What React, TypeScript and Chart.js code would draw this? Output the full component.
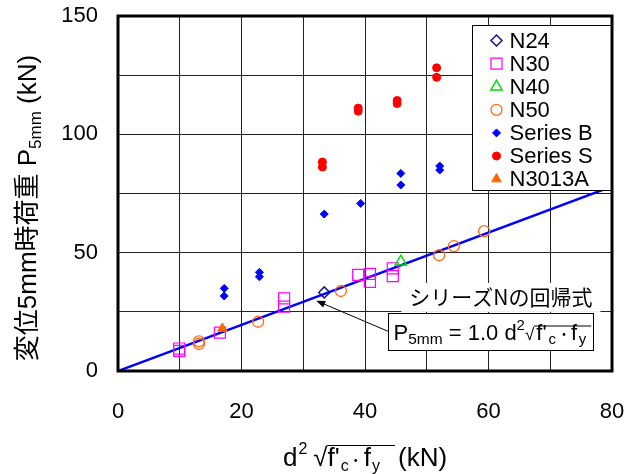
import React, { useEffect, useRef } from 'react';
import { Chart, registerables } from 'chart.js';
import { drawPoint } from 'chart.js/helpers';

Chart.register(...registerables);

// ---- data (x = d^2 sqrt(f'c fy) [kN], y = P5mm [kN]) ----
const N24: [number, number][] = [[33.4, 33.2]];
const N30: [number, number][] = [
  [9.9, 9.5], [9.9, 8.5], [16.5, 16.2], [26.9, 30.7], [26.9, 27.2],
  [38.9, 40.6], [40.8, 41.0], [40.8, 37.7], [44.5, 43.4], [44.5, 40.1],
];
const N40: [number, number][] = [[45.8, 46.2]];
const N50: [number, number][] = [
  [13.1, 12.5], [13.1, 11.4], [22.7, 20.8], [36.1, 33.8], [52.0, 48.9], [54.4, 52.8], [59.3, 59.1],
];
const SERIES_B: [number, number][] = [
  [17.2, 34.9], [17.2, 31.7], [22.9, 41.7], [22.9, 39.8], [33.4, 66.3],
  [39.3, 70.8], [45.8, 78.6], [45.8, 83.5], [52.1, 86.6], [52.1, 84.9],
];
const SERIES_S: [number, number][] = [
  [33.1, 88.3], [33.1, 86.2], [38.9, 111.1], [38.9, 109.8],
  [45.2, 114.3], [45.2, 113.0], [51.6, 128.1], [51.6, 124.1],
];
const N3013A: [number, number][] = [[16.9, 18.0]];
const REG_LINE: [number, number][] = [[0, 0], [80, 78]];

const X_TICK_LABELS = [0, 20, 40, 60, 80];
const Y_TICK_LABELS = [0, 50, 100, 150];

// annotation anchors (data units)
const ARROW_TIP = { x: 32.1, y: 29.7 };
const BOX_ANCHOR = { x: 43.7, y: 24.5 };
const NOTE_CENTER = { x: 62.0, y: 31.3 };

const LAT = "'Liberation Sans', Arial, 'Noto Sans CJK JP', sans-serif";
const CJK = "'Noto Sans CJK JP', 'Liberation Sans', sans-serif";

type Seg = { t: string; size: number; dy?: number; font?: string; gap?: number; root?: boolean; over?: boolean };

function drawRich(ctx: CanvasRenderingContext2D, segs: Seg[], x: number, y: number, align: 'left' | 'center') {
  let total = 0;
  for (const s of segs) {
    ctx.font = `${s.size}px ${s.font || LAT}`;
    total += ctx.measureText(s.t).width + (s.gap || 0);
  }
  let cx = align === 'center' ? x - total / 2 : x;
  let overStart: number | null = null;
  let overY = 0;
  let overEnd = 0;
  ctx.textAlign = 'left';
  ctx.textBaseline = 'alphabetic';
  for (const s of segs) {
    cx += s.gap || 0;
    ctx.font = `${s.size}px ${s.font || LAT}`;
    const m = ctx.measureText(s.t);
    if (s.t) ctx.fillText(s.t, cx, y + (s.dy || 0));
    if (s.root) {
      overStart = cx + m.actualBoundingBoxRight - 1;
      overY = y + (s.dy || 0) - m.actualBoundingBoxAscent + 0.5;
    }
    cx += m.width;
    if (s.over) overEnd = cx;
  }
  if (overStart !== null) {
    ctx.beginPath();
    ctx.moveTo(overStart, overY);
    ctx.lineTo(overEnd, overY);
    ctx.lineWidth = 1.2;
    ctx.strokeStyle = '#000';
    ctx.stroke();
  }
  return total;
}

type Def = { label: string; pts: [number, number][]; style: string; r: number; color: string; fill: boolean; bw: number };
const DEFS: Def[] = [
  { label: 'N24', pts: N24, style: 'rectRot', r: 5.5, color: '#14148a', fill: false, bw: 1.5 },
  { label: 'N30', pts: N30, style: 'rect', r: 7.8, color: '#ff00ff', fill: false, bw: 1.2 },
  { label: 'N40', pts: N40, style: 'triangle', r: 6.5, color: '#00dd00', fill: false, bw: 1.5 },
  { label: 'N50', pts: N50, style: 'circle', r: 5.5, color: '#ff6a10', fill: false, bw: 1.3 },
  { label: 'Series B', pts: SERIES_B, style: 'rectRot', r: 4, color: '#0000ff', fill: true, bw: 1 },
  { label: 'Series S', pts: SERIES_S, style: 'circle', r: 4, color: '#ff0000', fill: true, bw: 1 },
  { label: 'N3013A', pts: N3013A, style: 'triangle', r: 5.5, color: '#ff6600', fill: true, bw: 1 },
];

const overlayPlugin = {
  id: 'overlay',
  afterDraw(chart: any) {
    const ctx: CanvasRenderingContext2D = chart.ctx;
    const xs = chart.scales.x;
    const ys = chart.scales.y;
    const ca = chart.chartArea;
    ctx.save();
    ctx.fillStyle = '#000';

    // note text with white background
    const nx = xs.getPixelForValue(NOTE_CENTER.x);
    const ny = ys.getPixelForValue(NOTE_CENTER.y);
    ctx.font = `21px ${CJK}`;
    const nw = ctx.measureText('シリーズNの回帰式').width;
    ctx.fillStyle = '#fff';
    ctx.fillRect(nx - nw / 2 - 8, ny - 14, nw + 16, 29);
    ctx.fillStyle = '#000';
    ctx.textAlign = 'center';
    ctx.textBaseline = 'middle';
    ctx.fillText('シリーズNの回帰式', nx, ny);

    // formula box
    const bx = Math.round(xs.getPixelForValue(BOX_ANCHOR.x)) + 0.5;
    const by = Math.round(ys.getPixelForValue(BOX_ANCHOR.y)) + 0.5;
    const bw = 205;
    const bh = 37;
    ctx.fillStyle = '#fff';
    ctx.fillRect(bx, by, bw, bh);
    ctx.strokeStyle = '#000';
    ctx.lineWidth = 1;
    ctx.strokeRect(bx, by, bw, bh);
    ctx.fillStyle = '#000';
    drawRich(ctx, [
      { t: 'P', size: 22 },
      { t: '5mm', size: 15.5, dy: 4 },
      { t: ' = 1.0 d', size: 22 },
      { t: '2', size: 15, dy: -10 },
      { t: '√', size: 17, root: true },
      { t: "f'", size: 22, gap: 2, over: true },
      { t: 'c', size: 15, dy: 4, gap: 2, over: true },
      { t: '・', size: 14, font: CJK, dy: -1, gap: 1, over: true },
      { t: 'f', size: 22, over: true },
      { t: 'y', size: 15, dy: 4, gap: 1.5, over: true },
      { t: '', size: 15, gap: 5, over: true },
    ], bx + 5, by + 26, 'left');

    // arrow
    const tx = xs.getPixelForValue(ARROW_TIP.x);
    const ty = ys.getPixelForValue(ARROW_TIP.y);
    const sx = bx;
    const sy = by + 18;
    const ang = Math.atan2(ty - sy, tx - sx);
    ctx.beginPath();
    ctx.moveTo(sx, sy);
    ctx.lineTo(tx - Math.cos(ang) * 6, ty - Math.sin(ang) * 6);
    ctx.strokeStyle = '#000';
    ctx.lineWidth = 1;
    ctx.stroke();
    ctx.beginPath();
    ctx.moveTo(tx, ty);
    ctx.lineTo(tx - Math.cos(ang) * 9 + Math.sin(ang) * 3.5, ty - Math.sin(ang) * 9 - Math.cos(ang) * 3.5);
    ctx.lineTo(tx - Math.cos(ang) * 9 - Math.sin(ang) * 3.5, ty - Math.sin(ang) * 9 + Math.cos(ang) * 3.5);
    ctx.closePath();
    ctx.fill();

    // legend
    const lx = ca.right - 139.5;
    const ly = ca.top + 9.5;
    ctx.fillStyle = '#fff';
    ctx.fillRect(lx, ly, 139, 165);
    ctx.strokeStyle = '#000';
    ctx.lineWidth = 1;
    ctx.strokeRect(lx, ly, 139, 165);
    DEFS.forEach((d, i) => {
      const cy = ly + 15 + i * 23.1;
      ctx.fillStyle = d.fill ? d.color : 'rgba(0,0,0,0)';
      ctx.strokeStyle = d.color;
      ctx.lineWidth = d.bw;
      drawPoint(ctx, { pointStyle: d.style as any, radius: d.r, rotation: 0, borderWidth: d.bw } as any, lx + 24, cy);
      ctx.fillStyle = '#000';
      ctx.font = `22px ${LAT}`;
      ctx.textAlign = 'left';
      ctx.textBaseline = 'middle';
      ctx.fillText(d.label, lx + 37, cy + 1);
    });

    // axis titles
    ctx.fillStyle = '#000';
    drawRich(ctx, [
      { t: 'd', size: 26 },
      { t: '2', size: 16, dy: -12, gap: 1 },
      { t: '√', size: 26, gap: 6, root: true },
      { t: "f'", size: 26, over: true },
      { t: 'c', size: 16, dy: 5, gap: 1, over: true },
      { t: '・', size: 14, font: CJK, dy: -1, over: true },
      { t: 'f', size: 26, gap: 1, over: true },
      { t: 'y', size: 16, dy: 5, gap: 1, over: true },
      { t: '', size: 16, gap: 15, over: true },
      { t: '(kN)', size: 26, gap: 3 },
    ], (ca.left + ca.right) / 2, 466, 'center');

    ctx.save();
    ctx.translate(36, 208);
    ctx.rotate(-Math.PI / 2);
    drawRich(ctx, [
      { t: '変位5mm時荷重 P', size: 26 },
      { t: '5mm', size: 17, dy: 5 },
      { t: ' (kN)', size: 26 },
    ], 0, 0, 'center');
    ctx.restore();

    // plot frame
    ctx.strokeStyle = '#000';
    ctx.lineWidth = 3;
    ctx.strokeRect(ca.left, ca.top, ca.right - ca.left, ca.bottom - ca.top);
    ctx.restore();
  },
};

export default function App() {
  const ref = useRef<HTMLCanvasElement | null>(null);
  useEffect(() => {
    if (!ref.current) return;
    const datasets: any[] = DEFS.map((d, i) => ({
      label: d.label,
      data: d.pts.map(([x, y]) => ({ x, y })),
      pointStyle: d.style,
      pointRadius: d.r,
      pointBorderWidth: d.bw,
      pointBorderColor: d.color,
      pointBackgroundColor: d.fill ? d.color : 'rgba(0,0,0,0)',
      borderColor: d.color,
      backgroundColor: d.fill ? d.color : 'rgba(0,0,0,0)',
      showLine: false,
      order: DEFS.length - i,
    }));
    datasets.push({
      label: 'reg',
      type: 'line',
      data: REG_LINE.map(([x, y]) => ({ x, y })),
      borderColor: '#0000ff',
      borderWidth: 2.5,
      pointRadius: 0,
      showLine: true,
      fill: false,
      order: 100,
    });
    const tickFont = { family: LAT, size: 22 };
    const chart = new Chart(ref.current, {
      type: 'scatter',
      data: { datasets },
      options: {
        animation: false,
        responsive: false,
        devicePixelRatio: 1,
        layout: { padding: { left: 0, right: 27, top: 16, bottom: 0 } },
        plugins: { legend: { display: false }, tooltip: { enabled: false } },
        scales: {
          x: {
            type: 'linear',
            min: 0,
            max: 80,
            ticks: {
              stepSize: 10,
              autoSkip: false,
              maxRotation: 0,
              padding: 28,
              color: '#000',
              font: tickFont,
              callback: (v: any) => (X_TICK_LABELS.includes(Number(v)) ? String(v) : ''),
            },
            grid: { color: '#222', lineWidth: 1, drawTicks: false },
            border: { display: false },
            afterFit: (s: any) => { s.height = 103; s.paddingLeft = 0; s.paddingRight = 0; },
          },
          y: {
            type: 'linear',
            min: 0,
            max: 150,
            ticks: {
              stepSize: 25,
              autoSkip: false,
              padding: 20,
              color: '#000',
              font: tickFont,
              callback: (v: any) => (Y_TICK_LABELS.includes(Number(v)) ? String(v) : ''),
            },
            grid: { color: '#222', lineWidth: 1, drawTicks: false },
            border: { display: false },
            afterFit: (s: any) => { s.width = 118; s.paddingTop = 0; s.paddingBottom = 0; },
          },
        },
      } as any,
      plugins: [overlayPlugin],
    });
    return () => chart.destroy();
  }, []);
  return (
    <canvas
      ref={ref}
      width={639}
      height={474}
      style={{ position: 'absolute', left: 0, top: 0, width: 639, height: 474 }}
    />
  );
}
